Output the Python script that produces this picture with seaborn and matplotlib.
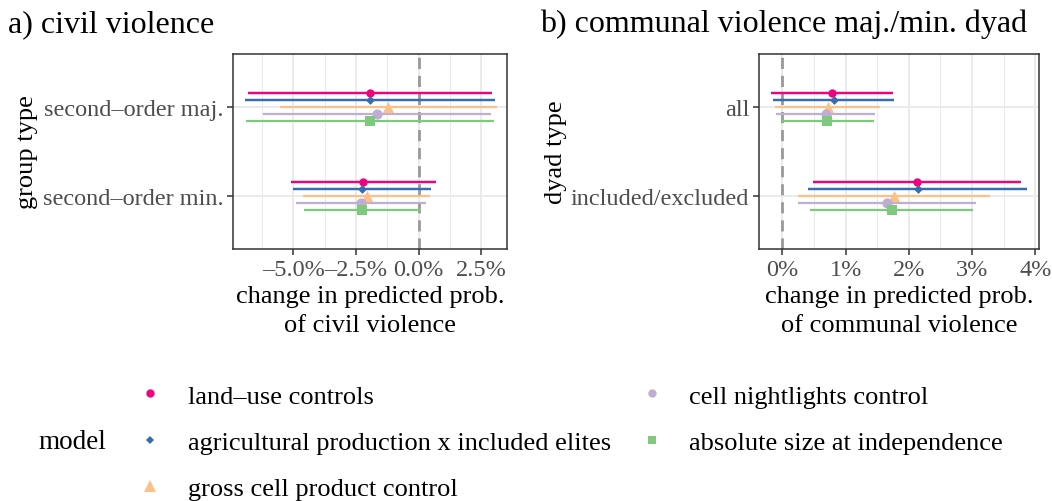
import numpy as np
import pandas as pd
import matplotlib
matplotlib.use("Agg")
import matplotlib.pyplot as plt
from matplotlib.lines import Line2D
from matplotlib.ticker import FuncFormatter, MultipleLocator
import seaborn as sns

# ---------------- data ----------------
models = ["land\u2013use controls", "agricultural production x included elites",
          "gross cell product control", "cell nightlights control",
          "absolute size at independence"]

civil_groups = ["second\u2013order maj.", "second\u2013order min."]
# values in percent; order of models as above
civil_est_maj = [-1.94, -1.94, -1.21, -1.67, -1.94]
civil_lo_maj = [-6.79, -6.91, -5.53, -6.22, -6.89]
civil_hi_maj = [2.91, 3.04, 3.11, 2.87, 3.01]
civil_est_min = [-2.21, -2.25, -2.05, -2.31, -2.25]
civil_lo_min = [-5.10, -5.00, -4.60, -4.89, -4.56]
civil_hi_min = [0.69, 0.48, 0.45, 0.28, 0.08]

comm_groups = ["all", "included/excluded"]
comm_est_all = [0.78, 0.81, 0.72, 0.69, 0.71]
comm_lo_all = [-0.18, -0.15, -0.12, -0.10, -0.01]
comm_hi_all = [1.75, 1.76, 1.55, 1.47, 1.45]
comm_est_ie = [2.13, 2.14, 1.77, 1.65, 1.74]
comm_lo_ie = [0.48, 0.40, 0.24, 0.24, 0.44]
comm_hi_ie = [3.77, 3.87, 3.29, 3.07, 3.02]

civil_ticks = [-5.0, -2.5, 0.0, 2.5]
comm_ticks = [0, 1, 2, 3, 4]

# ---------------- styles ----------------
colors = ["#F0027F", "#386CB0", "#FDC086", "#BEAED4", "#7FC97F"]
markers = ["o", "D", "^", "o", "s"]
msizes = [36, 20, 66, 54, 62]
leg_ms = [6.0, 4.4, 9.0, 6.0, 6.0]
lwidths = [1.75, 1.75, 1.6, 1.6, 1.6]
dodge = [-0.16, -0.08, 0.0, 0.08, 0.16]

sns.set_theme(style="white")
plt.rcParams["font.family"] = ["Liberation Serif", "DejaVu Serif"]
plt.rcParams["text.color"] = "black"

fig = plt.figure(figsize=(10.52, 5.02), dpi=100)


def make_df(groups, est_a, lo_a, hi_a, est_b, lo_b, hi_b):
    rows = []
    for gi, (e, l, h) in enumerate([(est_a, lo_a, hi_a), (est_b, lo_b, hi_b)]):
        for mi, m in enumerate(models):
            rows.append(dict(group=groups[gi], gidx=gi, model=m, midx=mi,
                             est=e[mi], lo=l[mi], hi=h[mi]))
    df = pd.DataFrame(rows)
    df["y"] = df["gidx"] + df["midx"].map(lambda i: dodge[i])
    return df


def panel(ax, df, groups, ticks, xlim, minor, fmt):
    ax.set_xlim(*xlim)
    ax.set_ylim(1.6, -0.6)
    ax.set_xticks(ticks)
    ax.xaxis.set_minor_locator(MultipleLocator(minor))
    ax.xaxis.set_major_formatter(FuncFormatter(fmt))
    ax.set_yticks([0, 1])
    ax.set_yticklabels(groups)
    ax.grid(True, which="major", color="#EBEBEB", lw=1.4, zorder=0)
    ax.grid(True, which="minor", axis="x", color="#EBEBEB", lw=0.8, zorder=0)
    ax.set_axisbelow(True)
    ax.axvline(0, color="#999999", lw=2, ls=(0, (4, 2.5)), zorder=1)
    for mi, m in enumerate(models):
        sub = df[df["midx"] == mi]
        ax.hlines(sub["y"], sub["lo"], sub["hi"], color=colors[mi],
                  lw=lwidths[mi], zorder=2)
        sns.scatterplot(data=sub, x="est", y="y", ax=ax, color=colors[mi],
                        marker=markers[mi], s=msizes[mi], linewidth=0,
                        zorder=3, legend=False)
    for s in ax.spines.values():
        s.set_color("#333333")
        s.set_linewidth(1.1)
    ax.tick_params(axis="both", which="major", length=4, width=1.1,
                   color="#333333", labelsize=17.5, labelcolor="#4D4D4D",
                   bottom=True, left=True, pad=3)
    ax.tick_params(axis="x", which="minor", length=0)


ax1 = fig.add_axes([233 / 1052, 252 / 502, 274 / 1052, 195 / 502])
ax2 = fig.add_axes([759 / 1052, 252 / 502, 280 / 1052, 195 / 502])

df1 = make_df(civil_groups, civil_est_maj, civil_lo_maj, civil_hi_maj,
              civil_est_min, civil_lo_min, civil_hi_min)
df2 = make_df(comm_groups, comm_est_all, comm_lo_all, comm_hi_all,
              comm_est_ie, comm_lo_ie, comm_hi_ie)

panel(ax1, df1, civil_groups, civil_ticks, (-7.40, 3.52), 1.25,
      lambda v, p: f"{v:.1f}%".replace("-", "\u2013"))
panel(ax2, df2, comm_groups, comm_ticks, (-0.37, 4.06), 0.5,
      lambda v, p: f"{v:.0f}%")

lab_kw = dict(fontsize=19, color="black")
ax1.set_xlabel("change in predicted prob.\nof civil violence", labelpad=4,
               linespacing=1.38, **lab_kw)
ax2.set_xlabel("change in predicted prob.\nof communal violence", labelpad=4,
               linespacing=1.38, **lab_kw)
ax1.set_ylabel("group type", labelpad=3, **lab_kw)
ax2.set_ylabel("dyad type", labelpad=3, **lab_kw)

fig.text(8 / 1052, 1 - 32 / 502, "a) civil violence", fontsize=23,
         va="baseline", ha="left", color="black")
fig.text(540 / 1052, 1 - 32 / 502, "b) communal violence maj./min. dyad",
         fontsize=23, va="baseline", ha="left", color="black")

# legend
handles = [Line2D([], [], ls="none", marker=markers[i], color=colors[i],
                  markersize=leg_ms[i], markeredgewidth=0)
           for i in range(len(models))]
leg = fig.legend(handles, models, loc="center left",
                 bbox_to_anchor=(137 / 1052, 1 - 443 / 502), ncol=2,
                 frameon=False, fontsize=19, handlelength=1.0,
                 handletextpad=0.92, columnspacing=1.05, labelspacing=0.86,
                 borderaxespad=0, borderpad=0, labelcolor="black")
fig.text(38 / 1052, 1 - 443 / 502, "model", fontsize=19.5, va="center",
         ha="left", color="black")

fig.savefig("out.png", dpi=100)
